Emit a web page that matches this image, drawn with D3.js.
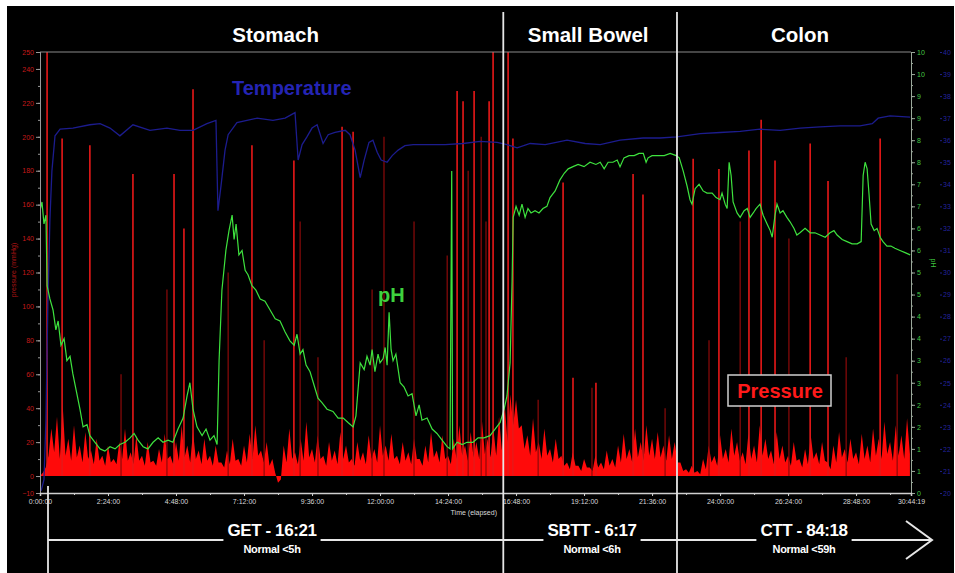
<!DOCTYPE html>
<html>
<head>
<meta charset="utf-8">
<script src="https://cdn.jsdelivr.net/npm/d3@7"></script>
<style>
  html, body { margin: 0; padding: 0; background: #fff; }
  svg { display: block; }
</style>
</head>
<body>
<svg id="chart" width="955" height="573"></svg>
<script>
// ---- data (hours elapsed) ----
const sections = ['Stomach', 'Small Bowel', 'Colon']
const sectionBounds = [16.35, 22.48]
const transitLabels = ['GET - 16:21', 'SBTT - 6:17', 'CTT - 84:18']
const transitNotes = ['Normal <5h', 'Normal <6h', 'Normal <59h']

const timeTicks = [0, 2.4, 4.8, 7.2, 9.6, 12, 14.4, 16.8, 19.2, 21.6, 24, 26.4, 28.8, 30.7386]
const timeTickLabels = ['0:00:00', '2:24:00', '4:48:00', '7:12:00', '9:36:00', '12:00:00', '14:24:00',
  '16:48:00', '19:12:00', '21:36:00', '24:00:00', '26:24:00', '28:48:00', '30:44:19']
const pressureTicks = [250, 240, 220, 200, 180, 160, 140, 120, 100, 80, 60, 40, 20, 0, -10]
const pHTicks = [10, 9.5, 9, 8.5, 8, 7.5, 7, 6.5, 6, 5.5, 5, 4.5, 4, 3.5, 3, 2.5, 2, 1.5, 1, 0.5, 0]
const tempTicks = [40, 39, 38, 37, 36, 35, 34, 33, 32, 31, 30, 29, 28, 27, 26, 25, 24, 23, 22, 21, 20]

// pressure baseline: peaks every 0.2 h, troughs in between (mmHg)
const pressureStep = 0.2
const pressurePeaks = [
  0, 5, 28, 35, 42, 22, 30, 18, 26, 15, 22, 12, 18, 10, 20, 28, 14, 24, 12, 20,
  9, 16, 25, 12, 20, 30, 18, 26, 15, 22, 12, 18, 8, 15, 22, 10, 18, 25, 30, 15,
  20, 10, -4, 18, 28, 14, 22, 32, 16, 24, 12, 20, 15, 26, 18, 10, 20, 14, 24, 16,
  30, 18, 25, 12, 20, 14, 22, 10, 18, 26, 15, 24, 12, 22, 30, 18, 26, 20, 32, 22,
  28, 35, 42, 48, 45, 30, 24, 34, 20, 28, 16, 22, 12, 8, 14, 6, 10, 5, 12, 8,
  15, 10, 18, 25, 16, 28, 20, 30, 22, 26, 18, 24, 20, 8, 4, 6, 3, 10, 18, 12,
  24, 16, 28, 20, 14, 25, 18, 30, 22, 15, 26, 18, 12, 20, 10, 16, 24, 14, 20, 8,
  18, 26, 16, 22, 14, 25, 18, 28, 22, 32, 20, 30, 24, 34
]
const pressureTroughs = [
  2, 12, 14, 10, 12, 9, 11, 8, 10, 7, 9, 6, 8, 7, 10, 9, 7, 9, 6, 8,
  6, 8, 10, 7, 9, 11, 8, 10, 7, 9, 6, 8, 5, 7, 9, 6, 8, 10, 12, 8,
  6, 2, -2, 8, 10, 7, 9, 11, 8, 10, 6, 9, 7, 10, 8, 6, 9, 7, 10, 8,
  12, 9, 10, 7, 9, 7, 10, 6, 8, 11, 8, 10, 7, 10, 12, 9, 11, 10, 13, 11,
  12, 15, 20, 30, 28, 16, 12, 14, 10, 12, 8, 10, 6, 4, 6, 3, 5, 3, 5, 4,
  6, 5, 8, 10, 8, 11, 9, 12, 10, 11, 9, 10, 8, 3, 2, 2, 1, 4, 8, 6,
  10, 8, 12, 9, 7, 10, 8, 12, 10, 7, 10, 8, 6, 9, 5, 7, 10, 7, 9, 4,
  8, 11, 8, 10, 7, 10, 8, 12, 10, 13, 9, 12, 10, 13
]

// tall contraction spikes [hour, mmHg]
const pressureSpikes = [
  [0.25, 250], [0.78, 199], [1.76, 195], [3.28, 178], [4.73, 178], [5.08, 146], [5.40, 228],
  [7.48, 195], [8.96, 186], [10.66, 206], [11.05, 203], [14.72, 227], [14.93, 221], [15.32, 227],
  [15.85, 221], [15.99, 250], [16.52, 250], [16.69, 199], [18.46, 173], [18.81, 58], [19.62, 55],
  [20.93, 178], [21.28, 166], [23.05, 187], [23.96, 181], [25.02, 192], [25.45, 210], [25.94, 186],
  [27.18, 196], [27.81, 174], [29.65, 199]
]
const faintSpikes = [
  [2.86, 60], [4.48, 110], [6.64, 120], [7.91, 80], [9.18, 150], [9.81, 70], [11.72, 110],
  [12.14, 200], [13.2, 150], [14.37, 130], [15.11, 180], [15.57, 200], [15.74, 150], [17.58, 45],
  [19.48, 52], [22.06, 40], [23.61, 80], [24.71, 150], [26.43, 140], [28.45, 70], [30.25, 60]
]

// pH [hour, pH]
const pHData = [
  [0.00, 6.4], [0.07, 6.6], [0.14, 6.1], [0.21, 6.3], [0.25, 4.7], [0.35, 4.4], [0.46, 4.15], [0.56, 3.7],
  [0.64, 3.9], [0.74, 3.35], [0.85, 3.5], [0.95, 3.0], [1.06, 3.1], [1.16, 2.7], [1.27, 2.35], [1.41, 1.9],
  [1.52, 1.5], [1.66, 1.55], [1.76, 1.3], [1.94, 1.15], [2.12, 1.0], [2.29, 0.95], [2.47, 1.05], [2.65, 1.0],
  [2.82, 1.1], [3.00, 1.15], [3.18, 1.25], [3.32, 1.35], [3.46, 1.2], [3.64, 1.05], [3.81, 1.0], [3.99, 1.15],
  [4.17, 1.25], [4.34, 1.15], [4.52, 1.2], [4.69, 1.15], [4.87, 1.45], [5.05, 1.7], [5.19, 2.2], [5.29, 2.5],
  [5.40, 1.9], [5.54, 1.5], [5.72, 1.3], [5.86, 1.45], [6.00, 1.2], [6.14, 1.3], [6.25, 1.1], [6.32, 3.0],
  [6.42, 4.6], [6.56, 5.5], [6.67, 5.95], [6.78, 6.3], [6.85, 5.75], [6.92, 6.1], [7.02, 5.4], [7.13, 5.5],
  [7.24, 5.05], [7.34, 4.95], [7.48, 4.7], [7.62, 4.6], [7.77, 4.4], [7.94, 4.35], [8.12, 4.15], [8.30, 3.95],
  [8.47, 3.9], [8.65, 3.65], [8.82, 3.45], [8.97, 3.35], [9.07, 3.6], [9.18, 3.15], [9.28, 3.25], [9.39, 2.9],
  [9.53, 2.75], [9.67, 2.45], [9.81, 2.15], [9.95, 2.05], [10.13, 1.9], [10.34, 1.85], [10.52, 1.7], [10.70, 1.7],
  [10.87, 1.6], [11.05, 1.5], [11.15, 1.75], [11.30, 2.95], [11.44, 2.8], [11.54, 3.1], [11.65, 2.9], [11.72, 3.25],
  [11.82, 2.75], [11.93, 3.15], [12.00, 2.95], [12.11, 3.05], [12.18, 3.3], [12.25, 2.9], [12.32, 4.1], [12.39, 3.25],
  [12.46, 3.0], [12.56, 3.15], [12.71, 2.5], [12.85, 2.4], [12.99, 2.2], [13.13, 2.25], [13.27, 1.75], [13.38, 2.0],
  [13.48, 1.65], [13.66, 1.7], [13.84, 1.45], [14.01, 1.35], [14.19, 1.2], [14.37, 1.05], [14.47, 1.0], [14.53, 7.3],
  [14.56, 1.0], [14.72, 1.15], [14.90, 1.1], [15.07, 1.15], [15.28, 1.15], [15.46, 1.25], [15.67, 1.25], [15.88, 1.3],
  [16.06, 1.45], [16.24, 1.6], [16.38, 1.9], [16.48, 2.2], [16.59, 2.95], [16.66, 4.8], [16.70, 6.25], [16.80, 6.5],
  [16.91, 6.3], [17.01, 6.55], [17.12, 6.25], [17.22, 6.45], [17.33, 6.35], [17.47, 6.4], [17.61, 6.35], [17.75, 6.45],
  [17.89, 6.5], [18.00, 6.7], [18.18, 6.85], [18.35, 7.1], [18.50, 7.25], [18.64, 7.35], [18.81, 7.4], [18.99, 7.45],
  [19.20, 7.4], [19.41, 7.5], [19.62, 7.45], [19.77, 7.5], [19.91, 7.35], [20.05, 7.5], [20.22, 7.5], [20.37, 7.55],
  [20.47, 7.4], [20.61, 7.6], [20.79, 7.65], [20.97, 7.65], [21.14, 7.7], [21.29, 7.7], [21.39, 7.5], [21.46, 7.6],
  [21.60, 7.65], [21.82, 7.65], [22.03, 7.65], [22.24, 7.7], [22.45, 7.65], [22.56, 7.6], [22.70, 7.3], [22.84, 6.95],
  [22.94, 6.65], [23.01, 6.55], [23.12, 6.9], [23.26, 7.0], [23.40, 6.85], [23.54, 6.8], [23.72, 6.8], [23.86, 6.7],
  [24.00, 6.65], [24.07, 6.8], [24.18, 6.55], [24.25, 6.45], [24.32, 7.5], [24.39, 7.2], [24.46, 6.6], [24.60, 6.35],
  [24.71, 6.25], [24.85, 6.4], [24.96, 6.45], [25.06, 6.25], [25.17, 6.35], [25.27, 6.45], [25.41, 6.55], [25.52, 6.3],
  [25.66, 6.1], [25.77, 5.95], [25.84, 5.8], [25.94, 6.3], [26.01, 6.55], [26.12, 6.35], [26.22, 6.4], [26.36, 6.25],
  [26.47, 6.15], [26.61, 6.0], [26.71, 5.85], [26.82, 5.9], [27.00, 6.0], [27.18, 5.9], [27.35, 5.9], [27.53, 5.85],
  [27.71, 5.8], [27.88, 5.9], [28.02, 5.95], [28.13, 5.85], [28.31, 5.75], [28.48, 5.7], [28.66, 5.65], [28.84, 5.65],
  [28.98, 5.7], [29.05, 7.2], [29.12, 7.5], [29.19, 7.35], [29.26, 6.75], [29.33, 6.1], [29.44, 5.95], [29.54, 6.0],
  [29.65, 5.8], [29.75, 5.7], [29.89, 5.6], [30.03, 5.6], [30.17, 5.55], [30.35, 5.5], [30.53, 5.45], [30.71, 5.4]
]

// temperature [hour, degC]
const tempData = [
  [0.04, 20.1], [0.14, 20.6], [0.21, 23.3], [0.28, 28.8], [0.35, 32.4], [0.42, 34.6], [0.53, 36.2], [0.71, 36.5],
  [1.16, 36.55], [1.76, 36.7], [2.12, 36.75], [2.47, 36.55], [2.82, 36.2], [3.28, 36.7], [3.88, 36.45], [4.48, 36.55],
  [4.94, 36.45], [5.40, 36.45], [5.89, 36.75], [6.21, 36.9], [6.28, 32.8], [6.39, 33.95], [6.53, 35.55], [6.64, 36.25],
  [6.95, 36.8], [7.66, 37.0], [8.22, 36.9], [8.65, 37.0], [9.00, 37.25], [9.11, 35.1], [9.25, 35.8], [9.42, 36.15],
  [9.60, 36.55], [9.78, 36.7], [9.99, 35.85], [10.17, 36.25], [10.41, 36.35], [10.77, 36.45], [10.94, 36.25], [11.12, 35.55],
  [11.30, 34.3], [11.44, 35.1], [11.61, 35.9], [11.75, 36.0], [11.90, 35.45], [12.04, 35.1], [12.25, 35.0], [12.43, 35.3],
  [12.64, 35.55], [12.88, 35.75], [13.17, 35.8], [13.77, 35.8], [14.30, 35.8], [14.93, 35.85], [15.53, 35.95], [16.13, 35.9],
  [16.48, 35.8], [16.84, 35.65], [17.30, 35.85], [17.83, 35.8], [18.60, 36.0], [19.24, 35.85], [19.77, 35.8], [20.47, 36.0],
  [21.28, 36.1], [21.88, 36.1], [22.48, 36.15], [23.30, 36.3], [24.00, 36.35], [24.71, 36.4], [25.41, 36.5], [26.12, 36.45],
  [26.83, 36.55], [27.53, 36.6], [28.24, 36.65], [28.94, 36.65], [29.37, 36.75], [29.58, 37.0], [30.00, 37.1], [30.71, 37.05]
]

// ---- layout ----
const width = 955
const height = 573
const plot = { left: 40, right: 911, top: 52, bottom: 493 }
const font = "'Liberation Sans', Arial, sans-serif"
const tMax = 30.7386

const x = d3.scaleLinear().domain([0, tMax]).range([plot.left, plot.right])
const yPressure = d3.scaleLinear().domain([-10, 250]).range([plot.bottom, plot.top])
const yPH = d3.scaleLinear().domain([0, 10]).range([plot.bottom, plot.top])
const yTemp = d3.scaleLinear().domain([20, 40]).range([plot.bottom, plot.top])

const svg = d3.select('#chart')

// background
svg.append('rect').attr('x', 7).attr('y', 6).attr('width', width - 8).attr('height', height - 6).attr('fill', '#000')

svg.append('clipPath').attr('id', 'plotClip')
  .append('rect')
  .attr('x', plot.left).attr('y', plot.top)
  .attr('width', plot.right - plot.left).attr('height', plot.bottom - plot.top)

const layer = svg.append('g').attr('clip-path', 'url(#plotClip)')

// pressure baseline area (peaks and troughs interleaved)
const pressureRows = pressurePeaks.flatMap((v, i) => [
  { t: Math.min(i * pressureStep, tMax), v },
  { t: Math.min(i * pressureStep + pressureStep / 2, tMax), v: pressureTroughs[i] },
])
layer.append('path')
  .datum(pressureRows)
  .attr('d', d3.area().x((d) => x(d.t)).y0(yPressure(0)).y1((d) => yPressure(d.v)))
  .attr('fill', '#ff0a0a')

// pressure spikes
layer.append('g').selectAll('line')
  .data(faintSpikes)
  .join('line')
  .attr('x1', (d) => x(d[0])).attr('x2', (d) => x(d[0]))
  .attr('y1', yPressure(0)).attr('y2', (d) => yPressure(d[1]))
  .attr('stroke', '#8e0a0a').attr('stroke-width', 1.2)

layer.append('g').selectAll('line')
  .data(pressureSpikes)
  .join('line')
  .attr('x1', (d) => x(d[0])).attr('x2', (d) => x(d[0]))
  .attr('y1', yPressure(0)).attr('y2', (d) => yPressure(d[1]))
  .attr('stroke', '#e81818').attr('stroke-width', 1.6)

// temperature
layer.append('path')
  .datum(tempData)
  .attr('d', d3.line().x((d) => x(d[0])).y((d) => yTemp(d[1])))
  .attr('fill', 'none').attr('stroke', '#1c1c8e').attr('stroke-width', 1.3)

// pH
layer.append('path')
  .datum(pHData)
  .attr('d', d3.line().x((d) => x(d[0])).y((d) => yPH(d[1])))
  .attr('fill', 'none').attr('stroke', '#3ee23e').attr('stroke-width', 1.2)

// frame
svg.append('line')
  .attr('x1', plot.left).attr('x2', plot.right).attr('y1', plot.top).attr('y2', plot.top)
  .attr('stroke', '#8a8a8a').attr('stroke-width', 1)

function styleAxis(g, color, lineColor) {
  g.select('.domain').attr('stroke', lineColor)
  g.selectAll('.tick line').attr('stroke', lineColor)
  g.selectAll('.tick text').attr('fill', color).attr('font-family', font).attr('font-size', 7)
}

// left pressure axis
svg.append('g')
  .attr('transform', `translate(${plot.left},0)`)
  .call(d3.axisLeft(yPressure).tickValues(d3.range(-10, 251, 10)).tickSize(2).tickFormat(''))
  .call((g) => styleAxis(g, '#c01515', '#9a9a9a'))
svg.append('g')
  .attr('transform', `translate(${plot.left},0)`)
  .call(d3.axisLeft(yPressure).tickValues(pressureTicks).tickSize(4).tickPadding(2))
  .call((g) => styleAxis(g, '#c41a1a', '#9a9a9a'))
svg.append('text')
  .attr('transform', `translate(16,270) rotate(-90)`)
  .attr('text-anchor', 'middle')
  .attr('font-family', font).attr('font-size', 7).attr('fill', '#b01515')
  .text('pressure (mmHg)')

// right pH axis
svg.append('g')
  .attr('transform', `translate(${plot.right},0)`)
  .call(d3.axisRight(yPH).tickValues(d3.range(0, 10.01, 0.25)).tickSize(2).tickFormat(''))
  .call((g) => styleAxis(g, '#3ec43e', '#9aa89a'))
svg.append('g')
  .attr('transform', `translate(${plot.right},0)`)
  .call(d3.axisRight(yPH).tickValues(pHTicks).tickSize(4).tickPadding(2))
  .call((g) => styleAxis(g, '#45c845', '#9aa89a'))
svg.append('text')
  .attr('transform', `translate(931,263) rotate(90)`)
  .attr('text-anchor', 'middle')
  .attr('font-family', font).attr('font-size', 7).attr('fill', '#3ec43e')
  .text('pH')

// temperature axis (outer)
svg.append('g')
  .attr('transform', 'translate(940,0)')
  .call(d3.axisRight(yTemp).tickValues(tempTicks).tickSize(2).tickPadding(1))
  .call((g) => g.select('.domain').remove())
  .call((g) => g.selectAll('.tick line').attr('stroke', '#20208a'))
  .call((g) => g.selectAll('.tick text').attr('fill', '#22229a').attr('font-family', font).attr('font-size', 7))

// bottom time axis
svg.append('g')
  .attr('transform', `translate(0,${plot.bottom})`)
  .call(d3.axisBottom(x).tickValues(d3.range(0, 30.7, 1.2)).tickSize(2).tickFormat(''))
  .call((g) => styleAxis(g, '#ddd', '#cfcfcf'))
svg.append('g')
  .attr('transform', `translate(0,${plot.bottom})`)
  .call(d3.axisBottom(x).tickValues(timeTicks).tickSize(3).tickPadding(3).tickFormat((d, i) => timeTickLabels[i]))
  .call((g) => styleAxis(g, '#d8d8d8', '#cfcfcf'))
  .call((g) => g.select('.domain').attr('stroke-width', 1.5))
svg.append('text')
  .attr('x', 497).attr('y', 515)
  .attr('text-anchor', 'end')
  .attr('font-family', font).attr('font-size', 7).attr('fill', '#d8d8d8')
  .text('Time (elapsed)')

// section boundaries
svg.append('g').selectAll('line')
  .data(sectionBounds)
  .join('line')
  .attr('x1', (d) => x(d)).attr('x2', (d) => x(d))
  .attr('y1', 12).attr('y2', height)
  .attr('stroke', '#e6e6e6').attr('stroke-width', 1.8)
svg.append('line')
  .attr('x1', 48).attr('x2', 48).attr('y1', 486).attr('y2', height)
  .attr('stroke', '#e6e6e6').attr('stroke-width', 1.8)

// section titles
const sectionEdges = [0, ...sectionBounds, tMax]
svg.append('g').selectAll('text')
  .data(sections)
  .join('text')
  .attr('x', (d, i) => (x(sectionEdges[i]) + x(sectionEdges[i + 1])) / 2 + (i === 0 ? 4 : i === 2 ? 6 : -2))
  .attr('y', 42)
  .attr('text-anchor', 'middle')
  .attr('font-family', font).attr('font-size', 20.5).attr('font-weight', 'bold').attr('fill', '#fff')
  .text((d) => d)

// series labels
svg.append('text')
  .attr('x', 232).attr('y', 95)
  .attr('font-family', font).attr('font-size', 20).attr('font-weight', 'bold').attr('fill', '#2424b4')
  .text('Temperature')
svg.append('text')
  .attr('x', 378).attr('y', 302)
  .attr('font-family', font).attr('font-size', 20).attr('font-weight', 'bold').attr('fill', '#3ed23e')
  .text('pH')
svg.append('rect')
  .attr('x', 728).attr('y', 375).attr('width', 103).attr('height', 31)
  .attr('fill', '#000').attr('stroke', '#cfcfcf').attr('stroke-width', 1.5)
svg.append('text')
  .attr('x', 780).attr('y', 398)
  .attr('text-anchor', 'middle')
  .attr('font-family', font).attr('font-size', 20).attr('font-weight', 'bold').attr('fill', '#ff1a1a')
  .text('Pressure')

// transit arrow
const arrowY = 540
const arrowEnd = 932
svg.append('line')
  .attr('x1', 48).attr('x2', arrowEnd).attr('y1', arrowY).attr('y2', arrowY)
  .attr('stroke', '#e6e6e6').attr('stroke-width', 2)
svg.append('path')
  .attr('d', `M${arrowEnd - 26},${arrowY - 19}L${arrowEnd},${arrowY}L${arrowEnd - 26},${arrowY + 19}`)
  .attr('fill', 'none').attr('stroke', '#e6e6e6').attr('stroke-width', 2)

const transitCenters = [272, 592, 804]
const transit = svg.append('g').selectAll('g')
  .data(transitLabels)
  .join('g')
  .attr('transform', (d, i) => `translate(${transitCenters[i]},0)`)

transit.append('rect').attr('class', 'gap')
transit.append('text')
  .attr('y', 536)
  .attr('text-anchor', 'middle')
  .attr('font-family', font).attr('font-size', 17).attr('font-weight', 'bold').attr('fill', '#fff')
  .attr('letter-spacing', -0.4)
  .text((d) => d)
transit.append('text')
  .attr('y', 553)
  .attr('text-anchor', 'middle')
  .attr('font-family', font).attr('font-size', 11).attr('font-weight', 'bold').attr('fill', '#fff')
  .attr('letter-spacing', -0.3)
  .text((d, i) => transitNotes[i])

// cut the arrow line where the labels sit
transit.each(function () {
  const g = d3.select(this)
  const box = g.select('text').node().getBBox()
  g.select('rect.gap')
    .attr('x', box.x - 4).attr('y', arrowY - 3)
    .attr('width', box.width + 8).attr('height', 6)
    .attr('fill', '#000')
})
</script>
</body>
</html>
